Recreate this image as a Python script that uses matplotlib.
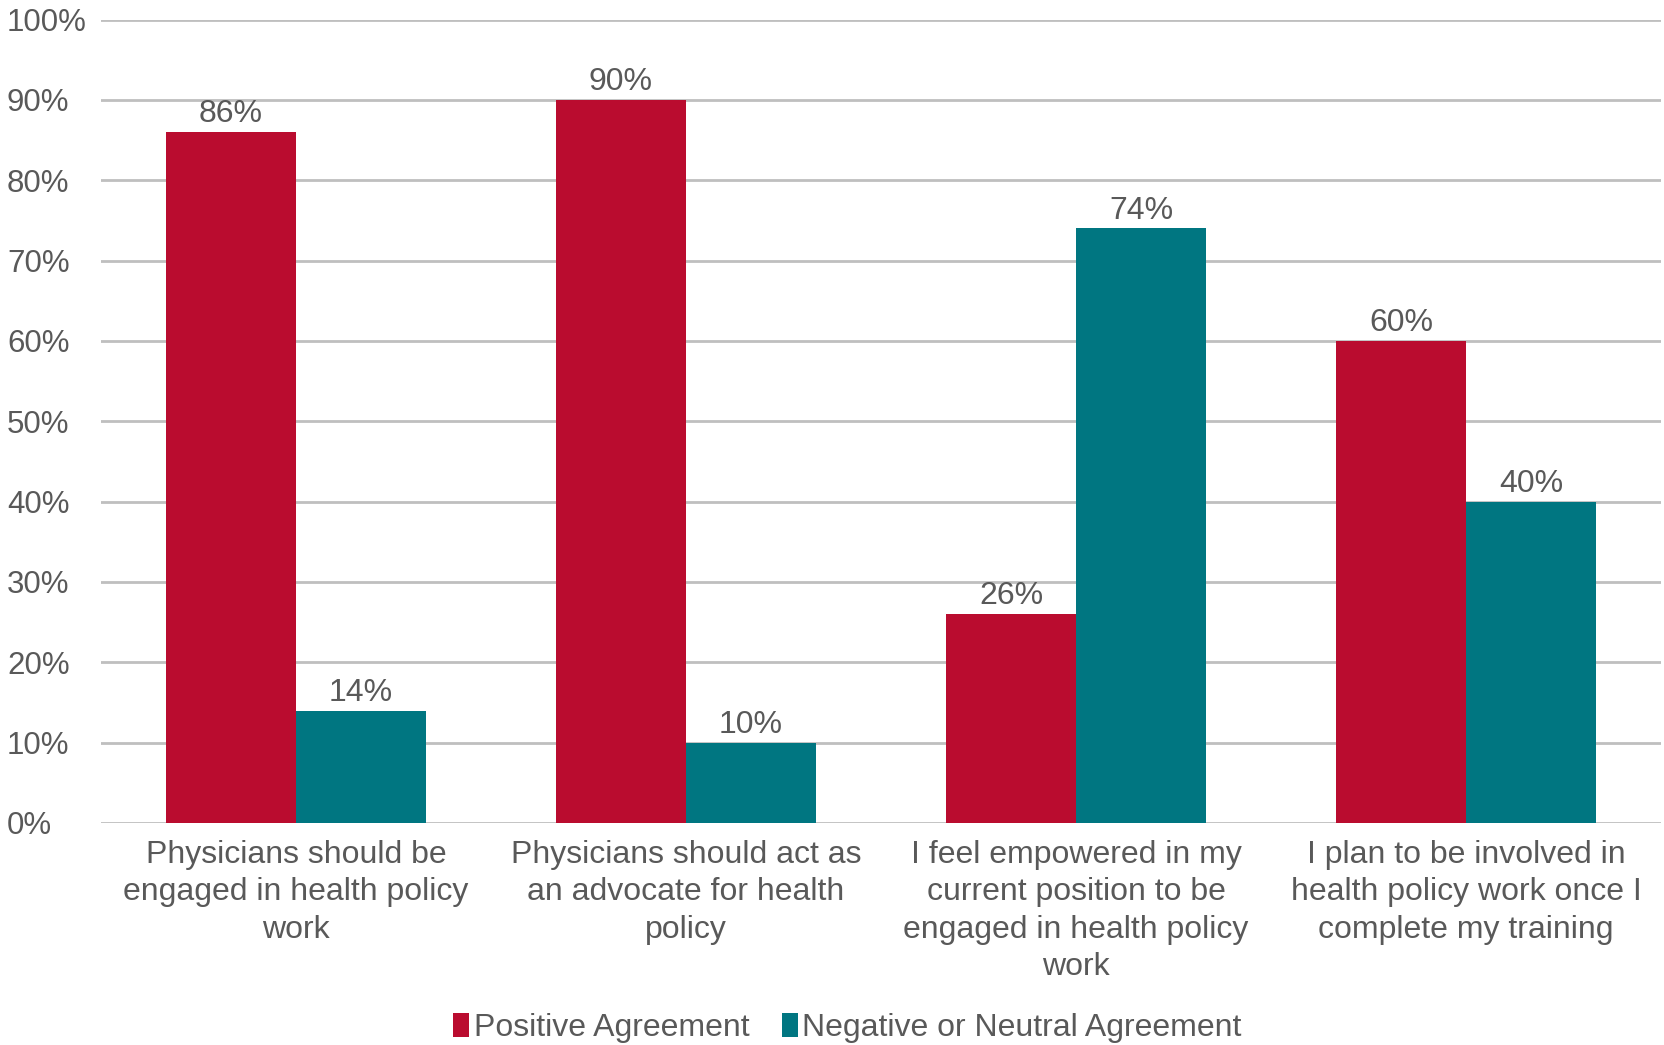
import matplotlib
matplotlib.use("Agg")
import matplotlib.pyplot as plt
import numpy as np

categories = [
    "Physicians should be\nengaged in health policy\nwork",
    "Physicians should act as\nan advocate for health\npolicy",
    "I feel empowered in my\ncurrent position to be\nengaged in health policy\nwork",
    "I plan to be involved in\nhealth policy work once I\ncomplete my training",
]
positive = [86, 90, 26, 60]
negative = [14, 10, 74, 40]
series_names = ["Positive Agreement", "Negative or Neutral Agreement"]
yticks = [0, 10, 20, 30, 40, 50, 60, 70, 80, 90, 100]

RED = "#BA0C2F"
TEAL = "#007681"
TXT = "#595959"
GRID = "#BFBFBF"
FS = 23

plt.rcParams['font.family'] = ['Liberation Sans', 'DejaVu Sans']

fig = plt.figure(figsize=(16.65, 10.45), dpi=100)
ax = fig.add_axes([101/1665, 1 - 823/1045, (1661-101)/1665, (823-19.5)/1045])

x = np.arange(len(categories))
w = 1/3
b1 = ax.bar(x - w/2, positive, w, color=RED, label=series_names[0], zorder=3)
b2 = ax.bar(x + w/2, negative, w, color=TEAL, label=series_names[1], zorder=3)

for bars, vals in ((b1, positive), (b2, negative)):
    for r, v in zip(bars, vals):
        ax.annotate(f"{v}%", (r.get_x() + r.get_width()/2, v), xytext=(0, 2),
                    textcoords="offset points", ha="center", va="bottom",
                    fontsize=FS, color=TXT)

ax.set_xlim(-0.5, len(categories) - 0.5)
ax.set_ylim(0, 100)
ax.set_yticks(yticks)
ax.set_yticklabels([f"{t}%" for t in yticks], ha='left')
ax.yaxis.grid(True, color=GRID, linewidth=2.0, zorder=0)
ax.set_axisbelow(True)
for s in ax.spines.values():
    s.set_visible(False)
ax.tick_params(axis='y', length=0, labelsize=22.5, labelcolor=TXT, pad=(101 - 7) * 0.72)
ax.set_xticks(x)
ax.set_xticklabels(categories, fontsize=FS, color=TXT, linespacing=1.31, va='top')
ax.tick_params(axis='x', length=0, pad=12.5)

leg = fig.legend(handles=[b1, b2], labels=series_names, loc='center',
                 bbox_to_anchor=(0.509, 1 - 1028/1045), ncol=2, frameon=False,
                 fontsize=FS, handlelength=0.5, handleheight=0.8,
                 handletextpad=0.15, columnspacing=1.0, labelcolor=TXT,
                 borderpad=0, borderaxespad=0)

fig.savefig("out.png", dpi=100)
